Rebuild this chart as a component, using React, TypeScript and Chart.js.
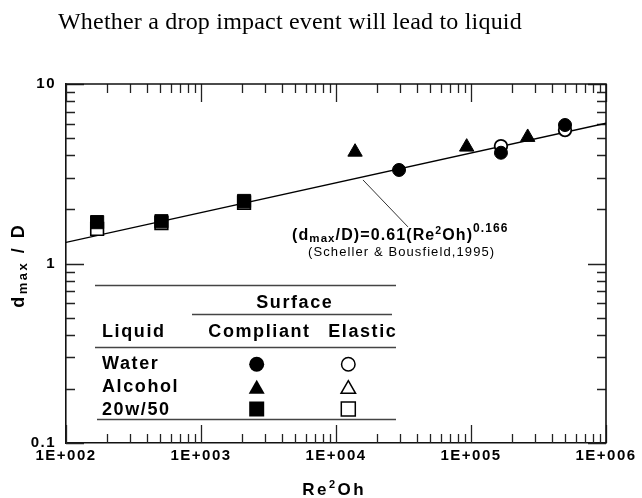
import React, { useEffect, useRef } from 'react';
import { Chart, registerables } from 'chart.js';

Chart.register(...registerables);

const HEADING = 'Whether a drop impact event will lead to liquid';

// Re²Oh (x) and d_max / D (y) for each liquid / surface pair
const waterCompliantRe = [29300, 166700, 497000];
const waterCompliantD = [3.32, 4.14, 5.91];
const waterElasticRe = [166700, 497000];
const waterElasticD = [4.51, 5.54];
const alcoholCompliantRe = [13840, 92900, 263000];
const alcoholCompliantD = [4.18, 4.46, 5.05];
const oilCompliantRe = [170, 509, 2084];
const oilCompliantD = [1.7, 1.72, 2.23];
const oilElasticRe = [170, 509, 2084];
const oilElasticD = [1.56, 1.68, 2.18];

// Scheller & Bousfield correlation: d_max/D = 0.61 (Re²Oh)^0.166
const FIT_COEFF = 0.61;
const FIT_EXP = 0.166;
const fitRe = [100, 1e6];

// pointer from the correlation line to its label
const leaderRe = [15850, 34100];
const leaderD = [2.92, 1.6];

const xMajorValues = [1e2, 1e3, 1e4, 1e5, 1e6];
const xTickLabels = ['1E+002', '1E+003', '1E+004', '1E+005', '1E+006'];
const yMajorValues = [0.1, 1, 10];
const yTickLabels = ['0.1', '1', '10'];
const minorMultiples = [2, 3, 4, 5, 6, 7, 8, 9];

const SANS = '"Liberation Sans", Arial, Helvetica, sans-serif';
const SERIF = '"Liberation Serif", "Times New Roman", serif';

const pts = (xs: number[], ys: number[]) => xs.map((x, i) => ({ x, y: ys[i] }));

function logTicks(majors: number[]) {
  const ticks: { value: number; major: boolean }[] = [];
  majors.forEach((m, i) => {
    ticks.push({ value: m, major: true });
    if (i < majors.length - 1) minorMultiples.forEach((k) => ticks.push({ value: m * k, major: false }));
  });
  return ticks;
}

type Seg = { t: string; size: number; dy?: number; weight?: string };

function drawRich(
  ctx: CanvasRenderingContext2D,
  segs: Seg[],
  x: number,
  y: number,
  align: 'left' | 'center' | 'right',
  ls: number,
  family = SANS,
) {
  ctx.letterSpacing = `${ls}px`;
  const widths = segs.map((s) => {
    ctx.font = `${s.weight ?? 'bold'} ${s.size}px ${family}`;
    return ctx.measureText(s.t).width;
  });
  const total = widths.reduce((a, b) => a + b, 0) - ls;
  let cx = align === 'left' ? x : align === 'center' ? x - total / 2 : x - total;
  ctx.textAlign = 'left';
  ctx.textBaseline = 'alphabetic';
  segs.forEach((s, i) => {
    ctx.font = `${s.weight ?? 'bold'} ${s.size}px ${family}`;
    ctx.fillText(s.t, cx, y + (s.dy ?? 0));
    cx += widths[i];
  });
}

function marker(
  ctx: CanvasRenderingContext2D,
  shape: 'circle' | 'triangle' | 'square',
  x: number,
  y: number,
  size: number,
  filled: boolean,
) {
  ctx.beginPath();
  if (shape === 'circle') {
    ctx.arc(x, y, size / 2, 0, Math.PI * 2);
  } else if (shape === 'square') {
    ctx.rect(x - size / 2, y - size / 2, size, size);
  } else {
    const h = size * 0.87;
    ctx.moveTo(x, y - h / 2);
    ctx.lineTo(x + size / 2, y + h / 2);
    ctx.lineTo(x - size / 2, y + h / 2);
    ctx.closePath();
  }
  if (filled) {
    ctx.fillStyle = '#000';
    ctx.fill();
  } else {
    ctx.fillStyle = '#fff';
    ctx.fill();
    ctx.strokeStyle = '#000';
    ctx.lineWidth = 1.5;
    ctx.stroke();
  }
}

const decorPlugin = {
  id: 'decor',
  beforeDraw(chart: Chart) {
    const ctx = chart.ctx;
    ctx.save();
    ctx.fillStyle = '#fff';
    ctx.fillRect(0, 0, chart.width, chart.height);
    ctx.restore();
    // wide tracking for the axis numbers
    ctx.letterSpacing = '1.5px';
  },
  beforeDatasetsDraw(chart: Chart) {
    const ctx = chart.ctx;
    const { left, right, top, bottom } = chart.chartArea;
    const xs = chart.scales.x;
    const ys = chart.scales.y;
    ctx.save();
    ctx.strokeStyle = '#222';
    ctx.lineWidth = 1.3;
    ctx.beginPath();
    logTicks(xMajorValues).forEach((t) => {
      const px = Math.round(xs.getPixelForValue(t.value)) + 0.5;
      const len = t.major ? 18 : 9;
      ctx.moveTo(px, bottom);
      ctx.lineTo(px, bottom - len);
      ctx.moveTo(px, top);
      ctx.lineTo(px, top + len);
    });
    logTicks(yMajorValues).forEach((t) => {
      const py = Math.round(ys.getPixelForValue(t.value)) + 0.5;
      const len = t.major ? 18 : 9;
      ctx.moveTo(left, py);
      ctx.lineTo(left + len, py);
      ctx.moveTo(right, py);
      ctx.lineTo(right - len, py);
    });
    ctx.stroke();
    // top and right frame
    ctx.strokeStyle = '#111';
    ctx.lineWidth = 1.6;
    ctx.beginPath();
    ctx.moveTo(left, top);
    ctx.lineTo(right, top);
    ctx.lineTo(right, bottom);
    ctx.stroke();
    ctx.restore();
  },
  afterDraw(chart: Chart) {
    const ctx = chart.ctx;
    const { left, right, top, bottom } = chart.chartArea;
    ctx.save();
    ctx.fillStyle = '#000';

    // running heading above the figure
    ctx.letterSpacing = '0.2px';
    ctx.font = `24px ${SERIF}`;
    ctx.textAlign = 'left';
    ctx.textBaseline = 'alphabetic';
    ctx.fillText(HEADING, 58, 29);

    // x axis title
    drawRich(
      ctx,
      [
        { t: 'Re', size: 17 },
        { t: '2', size: 11, dy: -7 },
        { t: 'Oh', size: 17 },
      ],
      (left + right) / 2 - 3,
      495,
      'center',
      2.5,
    );

    // y axis title
    ctx.save();
    ctx.translate(24, (top + bottom) / 2 + 3);
    ctx.rotate(-Math.PI / 2);
    drawRich(
      ctx,
      [
        { t: 'd', size: 18 },
        { t: 'max', size: 13, dy: 3 },
        { t: ' / D', size: 18 },
      ],
      0,
      0,
      'center',
      2.5,
    );
    ctx.restore();

    // correlation label
    drawRich(
      ctx,
      [
        { t: '(d', size: 16 },
        { t: 'max', size: 11.5, dy: 2 },
        { t: '/D)=0.61(Re', size: 16 },
        { t: '2', size: 10.5, dy: -6.5 },
        { t: 'Oh)', size: 16 },
        { t: '0.166', size: 12, dy: -8.5 },
      ],
      292,
      240,
      'left',
      1.1,
    );
    drawRich(ctx, [{ t: '(Scheller & Bousfield,1995)', size: 13, weight: 'normal' }], 308, 256, 'left', 1.1);

    // legend table
    ctx.strokeStyle = '#444';
    ctx.lineWidth = 1.5;
    ctx.beginPath();
    ctx.moveTo(95, 285.5);
    ctx.lineTo(396, 285.5);
    ctx.moveTo(192, 314.5);
    ctx.lineTo(392, 314.5);
    ctx.moveTo(95, 347.5);
    ctx.lineTo(396, 347.5);
    ctx.moveTo(97, 419.5);
    ctx.lineTo(396, 419.5);
    ctx.stroke();

    ctx.fillStyle = '#000';
    drawRich(ctx, [{ t: 'Surface', size: 18 }], 294, 308, 'center', 1.6);
    drawRich(ctx, [{ t: 'Liquid', size: 18 }], 102, 337, 'left', 1.6);
    drawRich(ctx, [{ t: 'Compliant', size: 18 }], 258.7, 337, 'center', 1.6);
    drawRich(ctx, [{ t: 'Elastic', size: 18 }], 362, 337, 'center', 1.6);
    drawRich(ctx, [{ t: 'Water', size: 18 }], 102, 369, 'left', 1.6);
    drawRich(ctx, [{ t: 'Alcohol', size: 18 }], 102, 392, 'left', 1.6);
    drawRich(ctx, [{ t: '20w/50', size: 18 }], 102, 415, 'left', 1.6);

    marker(ctx, 'circle', 256.7, 364.3, 15, true);
    marker(ctx, 'triangle', 256.7, 386.7, 16, true);
    marker(ctx, 'square', 256.7, 409, 15, true);
    marker(ctx, 'circle', 348.3, 364.3, 13.5, false);
    marker(ctx, 'triangle', 348.3, 387, 14.5, false);
    marker(ctx, 'square', 348.3, 409, 14, false);

    ctx.restore();
  },
};

export default function App() {
  const ref = useRef<HTMLCanvasElement>(null);

  useEffect(() => {
    if (!ref.current) return;
    const fitPoints = fitRe.map((x) => ({ x, y: FIT_COEFF * Math.pow(x, FIT_EXP) }));

    const chart = new Chart(ref.current, {
      type: 'scatter',
      data: {
        datasets: [
          {
            label: 'Water, compliant',
            data: pts(waterCompliantRe, waterCompliantD),
            pointStyle: 'circle',
            pointRadius: 6.5,
            pointBackgroundColor: '#000',
            pointBorderColor: '#000',
            pointBorderWidth: 1,
          },
          {
            label: 'Alcohol, compliant',
            data: pts(alcoholCompliantRe, alcoholCompliantD),
            pointStyle: 'triangle',
            pointRadius: 8.3,
            pointBackgroundColor: '#000',
            pointBorderColor: '#000',
            pointBorderWidth: 1,
          },
          {
            label: '20w/50, compliant',
            data: pts(oilCompliantRe, oilCompliantD),
            pointStyle: 'rect',
            pointRadius: 9.3,
            pointBackgroundColor: '#000',
            pointBorderColor: '#000',
            pointBorderWidth: 1,
          },
          {
            label: 'Water, elastic',
            data: pts(waterElasticRe, waterElasticD),
            pointStyle: 'circle',
            pointRadius: 6.3,
            pointBackgroundColor: '#fff',
            pointBorderColor: '#000',
            pointBorderWidth: 1.8,
          },
          {
            label: '20w/50, elastic',
            data: pts(oilElasticRe, oilElasticD),
            pointStyle: 'rect',
            pointRadius: 9.0,
            pointBackgroundColor: '#fff',
            pointBorderColor: '#000',
            pointBorderWidth: 1.6,
          },
          {
            label: 'Scheller & Bousfield (1995)',
            data: fitPoints,
            showLine: true,
            pointRadius: 0,
            borderColor: '#000',
            borderWidth: 1.3,
          },
          {
            label: 'pointer',
            data: pts(leaderRe, leaderD),
            showLine: true,
            pointRadius: 0,
            borderColor: '#333',
            borderWidth: 1,
          },
        ],
      },
      options: {
        responsive: false,
        animation: false,
        events: [],
        layout: { padding: { left: 0, right: 36, top: 84, bottom: 0 } },
        plugins: {
          legend: { display: false },
          tooltip: { enabled: false },
          title: { display: false },
        },
        scales: {
          x: {
            type: 'logarithmic',
            position: 'bottom',
            min: 100,
            max: 1e6,
            afterBuildTicks: (scale: any) => {
              scale.ticks = logTicks(xMajorValues);
            },
            afterFit: (scale: any) => {
              scale.height = 55;
            },
            grid: { display: false, drawTicks: false },
            border: { display: true, color: '#111', width: 1.6 },
            ticks: {
              autoSkip: false,
              maxRotation: 0,
              minRotation: 0,
              padding: 4,
              color: '#000',
              font: { family: SANS, size: 15, weight: 'bold' },
              callback: (value: any) => {
                const i = xMajorValues.findIndex((v) => Math.abs(v - Number(value)) < 1e-6 * v);
                return i >= 0 ? xTickLabels[i] : '';
              },
            },
          },
          y: {
            type: 'logarithmic',
            position: 'left',
            min: 0.1,
            max: 10,
            afterBuildTicks: (scale: any) => {
              scale.ticks = logTicks(yMajorValues);
            },
            afterFit: (scale: any) => {
              scale.width = 66;
            },
            grid: { display: false, drawTicks: false },
            border: { display: true, color: '#111', width: 1.6 },
            ticks: {
              autoSkip: false,
              padding: 10,
              color: '#000',
              font: { family: SANS, size: 15, weight: 'bold' },
              callback: (value: any) => {
                const i = yMajorValues.findIndex((v) => Math.abs(v - Number(value)) < 1e-6 * v);
                return i >= 0 ? yTickLabels[i] : '';
              },
            },
          },
        },
      },
      plugins: [decorPlugin],
    } as any);

    return () => chart.destroy();
  }, []);

  return (
    <div style={{ position: 'absolute', left: 0, top: 0, width: 642, height: 498, background: '#fff' }}>
      <canvas ref={ref} width={642} height={498} style={{ display: 'block', width: 642, height: 498 }} />
    </div>
  );
}
